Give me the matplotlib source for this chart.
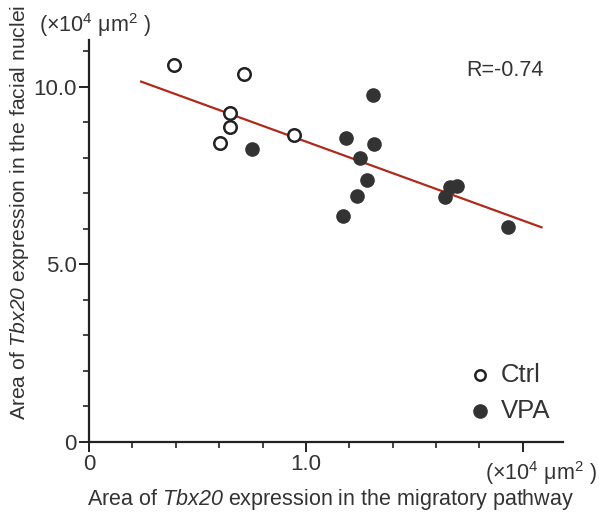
import matplotlib
matplotlib.use("Agg")
import matplotlib.pyplot as plt
from matplotlib.ticker import MultipleLocator

plt.rcParams['font.family'] = ['Liberation Sans', 'DejaVu Sans']
plt.rcParams['mathtext.fontset'] = 'custom'
plt.rcParams['mathtext.rm'] = 'Liberation Sans'
plt.rcParams['mathtext.it'] = 'Liberation Sans:italic'
plt.rcParams['mathtext.sf'] = 'Liberation Sans:italic'

ctrl_x = [0.392, 0.714, 0.650, 0.650, 0.604, 0.945]
ctrl_y = [10.62, 10.34, 9.27, 8.85, 8.40, 8.65]
vpa_x = [0.751, 1.309, 1.184, 1.313, 1.249, 1.281, 1.235, 1.171, 1.641, 1.664, 1.696, 1.931]
vpa_y = [8.25, 9.75, 8.54, 8.37, 8.00, 7.38, 6.93, 6.37, 6.90, 7.18, 7.21, 6.06]
fit_x = [0.24, 2.086]
fit_y = [10.14, 6.04]
r_text = "R=-0.74"
groups = ['Ctrl', 'VPA']

TXT = '#333333'
fig = plt.figure(figsize=(5.99, 5.17), dpi=100)
ax = fig.add_axes([89/599, 75/517, 474/599, 402/517])

ax.plot(fit_x, fit_y, color='#b02a1c', lw=1.6, zorder=1)
ax.plot(ctrl_x, ctrl_y, 'o', ms=9, mfc='white', mec='#222222', mew=1.8, ls='none', zorder=2)
ax.plot(vpa_x, vpa_y, 'o', ms=9.5, mfc='#333333', mec='#333333', mew=1, ls='none', zorder=2)

ax.set_xlim(0, 2.185)
ax.set_ylim(0, 11.31)
ax.spines['top'].set_visible(False)
ax.spines['right'].set_visible(False)
for s in ['left', 'bottom']:
    ax.spines[s].set_linewidth(1.6)
    ax.spines[s].set_color('#222222')

ax.xaxis.set_minor_locator(MultipleLocator(0.2))
ax.yaxis.set_minor_locator(MultipleLocator(1.0))
ax.set_xticks([0, 1.0, 2.0])
ax.set_xticklabels(['0', '1.0', ''])
ax.set_yticks([0, 5.0, 10.0])
ax.set_yticklabels(['0', '5.0', '10.0'])
ax.tick_params(which='major', length=7, width=1.4, labelsize=16, color='#222222', labelcolor=TXT, pad=2)
ax.tick_params(which='minor', length=4.5, width=1.2, color='#222222')

fig.text(505/599, 1-70/517, r_text, ha='center', va='center', fontsize=15.5, color=TXT)

unit = r'(×10$^{4}$ μm$^{2}$ )'
fig.text(39/599, 1-25/517, unit, ha='left', va='center', fontsize=15.5, color=TXT)
fig.text(485/599, 1-473/517, unit, ha='left', va='center', fontsize=15.5, color=TXT)

fig.text(331/599, 1-500/517, r'Area of $\mathsf{Tbx20}$ expression in the migratory pathway',
         ha='center', va='center', fontsize=15.5, color=TXT)
fig.text(20/599, 1-212/517, r'Area of $\mathsf{Tbx20}$ expression in the facial nuclei',
         ha='center', va='center', rotation=90, fontsize=15.2, color=TXT)

# legend drawn manually
fig.lines.append(plt.Line2D([480/599], [1-375/517], transform=fig.transFigure, marker='o', ls='none',
                            ms=7.5, mfc='white', mec='#222222', mew=1.8))
fig.lines.append(plt.Line2D([480/599], [1-411/517], transform=fig.transFigure, marker='o', ls='none',
                            ms=9.5, mfc='#333333', mec='#333333'))
fig.text(501/599, 1-375/517, groups[0], ha='left', va='center', fontsize=18.5, color=TXT)
fig.text(501/599, 1-411/517, groups[1], ha='left', va='center', fontsize=18.5, color=TXT)

fig.savefig('out.png', dpi=100)
